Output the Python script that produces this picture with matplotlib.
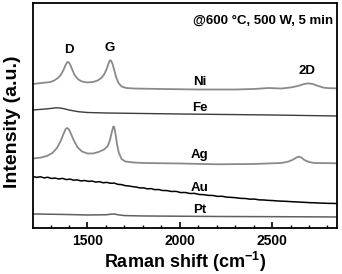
import matplotlib
matplotlib.use("Agg")
import matplotlib.pyplot as plt
from matplotlib.ticker import MultipleLocator

plt.rcParams['font.family'] = ['Liberation Sans', 'DejaVu Sans']
plt.rcParams['font.weight'] = 'bold'
plt.rcParams['mathtext.fontset'] = 'custom'
plt.rcParams['mathtext.rm'] = 'Liberation Sans:bold'
plt.rcParams['mathtext.bf'] = 'Liberation Sans:bold'
plt.rcParams['mathtext.it'] = 'Liberation Sans:bold'

# Raman spectra (x in cm^-1, intensity in arbitrary units)
ni_x = [1205, 1250, 1300, 1320, 1340, 1355, 1370, 1380, 1390, 1396, 1405, 1415, 1430, 1450,
        1470, 1500, 1530, 1555, 1575, 1590, 1603, 1613, 1621, 1627, 1635, 1645, 1655, 1668,
        1685, 1710, 1750, 1900, 2100, 2300, 2400, 2480, 2550, 2600, 2640, 2670, 2695, 2720,
        2750, 2780, 2810, 2850]
ni_y = [144, 145, 146, 147.5, 150, 153, 158, 162.5, 165.8, 166, 164, 159.5, 153, 148.5,
        146.5, 145.5, 146, 147.5, 150, 153.5, 158.5, 164, 167.5, 167.5, 164.5, 158, 151, 145,
        141.5, 140, 139.5, 139, 138.5, 138.5, 139, 140, 139.5, 140.5, 142, 143.8, 144.7, 144,
        142, 140.3, 139.8, 139.7]

fe_x = [1205, 1260, 1300, 1330, 1350, 1375, 1400, 1450, 1500, 1600, 2000, 2500, 2850]
fe_y = [118, 118.8, 119.5, 120.2, 120, 119.2, 118, 116.3, 115.5, 115, 114, 113, 112]

ag_x = [1205, 1250, 1280, 1310, 1335, 1355, 1370, 1382, 1390, 1398, 1410, 1425, 1445, 1470,
        1500, 1530, 1560, 1590, 1610, 1622, 1632, 1640, 1645, 1652, 1660, 1670, 1685, 1705,
        1750, 1800, 2000, 2200, 2400, 2550, 2590, 2615, 2632, 2645, 2658, 2675, 2700, 2730, 2850]
ag_y = [69.5, 70.5, 72, 75, 80, 87, 94, 99, 100, 99, 94.5, 88, 81, 76.5,
        74.5, 74.5, 76, 78.5, 82, 88, 96, 101.5, 101, 94, 84, 75, 69, 66.5,
        65.5, 65, 64.5, 63.7, 64, 65, 66.5, 68.5, 70.5, 71.3, 70.5, 68, 66, 65, 64.7]

au_x = [1205, 1225, 1245, 1265, 1285, 1305, 1325, 1345, 1365, 1385, 1405, 1425, 1445, 1465,
        1485, 1505, 1525, 1545, 1565, 1585, 1605, 1625, 1645, 1665, 1685, 1705, 1725, 1745,
        1765, 1785, 1805, 1825, 1845, 1865, 1885, 1905, 1930, 1955, 1980, 2005, 2030, 2055,
        2080, 2105, 2130, 2155, 2180, 2205, 2230, 2255, 2280, 2305, 2330, 2355, 2380, 2405,
        2430, 2455, 2480, 2505, 2530, 2555, 2580, 2605, 2630, 2655, 2680, 2705, 2730, 2755,
        2780, 2805, 2830, 2850]
au_y = [51.5, 50.6, 51.2, 50.1, 50.7, 49.5, 49.9, 49.0, 49.6, 48.4, 48.9, 47.8, 48.1, 47.0,
        47.5, 46.6, 46.9, 45.9, 46.3, 45.2, 45.6, 44.7, 44.9, 43.6, 43.4, 42.3, 42.0, 41.3,
        40.9, 40.0, 40.1, 39.1, 39.4, 38.3, 38.5, 37.5, 37.4, 36.5, 36.6, 35.4, 35.5, 34.5,
        34.6, 33.5, 33.3, 32.6, 32.5, 31.6, 31.7, 30.8, 30.6, 30.2, 29.6, 29.5, 28.8, 28.9,
        28.1, 28.0, 27.6, 27.4, 27.0, 26.8, 26.6, 26.3, 26.1, 25.8, 25.6, 25.3, 25.2, 24.9,
        24.8, 24.6, 24.6, 24.4]

pt_x = [1205, 1350, 1500, 1600, 1625, 1645, 1665, 1700, 1800, 2200, 2500, 2850]
pt_y = [14, 13.6, 13, 13.2, 13.7, 14, 13.2, 12.4, 12, 11.5, 11.3, 11]

curve_labels = ["Ni", "Fe", "Ag", "Au", "Pt"]
label_y = [146, 120, 73, 40, 18]
peak_labels = ["D", "G", "2D"]
peak_x = [1400, 1623, 2688]
peak_y = [178, 180, 157]
condition_text = "@600 \u00b0C, 500 W, 5 min"

fig = plt.figure(figsize=(3.42, 2.74), dpi=100)
ax = fig.add_axes([0.0965, 0.168, 0.888, 0.821])

ax.plot(ni_x, ni_y, color='#8a8a8a', lw=1.3)
ax.plot(fe_x, fe_y, color='#3c3c3c', lw=1.0)
ax.plot(ag_x, ag_y, color='#8a8a8a', lw=1.3)
ax.plot(au_x, au_y, color='#000000', lw=1.1)
ax.plot(pt_x, pt_y, color='#606060', lw=1.1)

for lab, yy in zip(curve_labels, label_y):
    ax.text(2108, yy, lab, ha='center', va='center', fontsize=9.5, fontweight='bold')
for lab, xx, yy in zip(peak_labels, peak_x, peak_y):
    ax.text(xx, yy, lab, ha='center', va='center', fontsize=9.5, fontweight='bold')
ax.text(2828, 207, condition_text, ha='right', va='center', fontsize=9.5, fontweight='bold')

ax.set_xlim(1205, 2850)
ax.set_ylim(0, 225)
ax.xaxis.set_major_locator(MultipleLocator(500))
ax.xaxis.set_minor_locator(MultipleLocator(100))
ax.set_yticks([])
ax.tick_params(axis='x', which='major', direction='in', length=4.5, width=1.2,
               labelsize=10, pad=4, top=False)
ax.tick_params(axis='x', which='minor', direction='in', length=2.5, width=1.0, top=False)
for lbl in ax.get_xticklabels():
    lbl.set_fontweight('bold')
for s in ax.spines.values():
    s.set_linewidth(1.3)

ax.set_xlabel("Raman shift (cm$^{-1}$)", fontsize=13, fontweight='bold', labelpad=2)
ax.set_ylabel("Intensity (a.u.)", fontsize=14, fontweight='bold')
ax.yaxis.set_label_coords(-0.038, 0.47)

fig.savefig("out.png", dpi=100)
